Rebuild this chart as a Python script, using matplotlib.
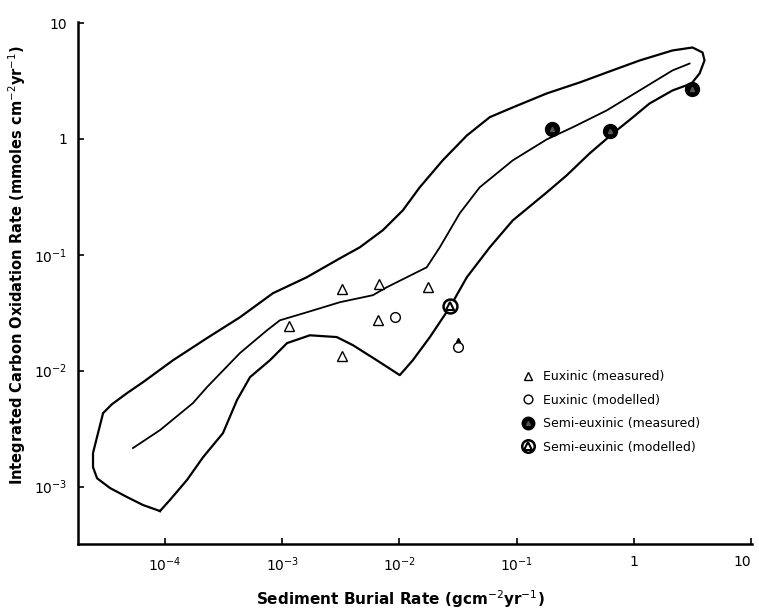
import matplotlib.pyplot as plt
from matplotlib.legend_handler import HandlerTuple

# outer envelope (closed loop)
env_x = [9.06e-5, 6.49e-5, 4.74e-5, 3.40e-5, 2.63e-5, 2.43e-5, 2.43e-5, 2.68e-5, 2.96e-5, 3.53e-5,
         4.74e-5, 6.49e-5, 1.17e-4, 2.28e-4, 4.36e-4, 8.33e-4, 1.62e-3, 3.11e-3, 4.59e-3, 7.22e-3,
         1.07e-2, 1.49e-2, 2.34e-2, 3.76e-2, 5.90e-2, 9.27e-2, 0.181, 0.345, 0.586, 1.12,
         2.14, 3.17, 3.86, 4.01, 3.64, 3.11, 2.14, 1.36, 0.977, 0.659,
         0.420, 0.267, 0.181, 9.27e-2, 5.90e-2, 3.76e-2, 2.69e-2, 1.82e-2, 1.30e-2, 1.007e-2,
         6.41e-3, 4.01e-3, 2.92e-3, 1.72e-3, 1.10e-3, 7.85e-4, 5.31e-4, 4.11e-4, 3.12e-4, 2.11e-4,
         1.54e-4, 1.10e-4, 9.06e-5]
env_y = [6.15e-4, 6.93e-4, 8.12e-4, 9.70e-4, 1.18e-3, 1.47e-3, 1.95e-3, 2.89e-3, 4.30e-3, 5.14e-3,
         6.40e-3, 7.96e-3, 1.23e-2, 1.91e-2, 2.89e-2, 4.66e-2, 6.40e-2, 9.33e-2, 0.116, 0.163,
         0.242, 0.382, 0.653, 1.07, 1.54, 1.87, 2.47, 3.07, 3.74, 4.75,
         5.80, 6.15, 5.57, 4.75, 3.67, 3.01, 2.62, 2.02, 1.53, 1.11,
         0.750, 0.484, 0.346, 0.198, 0.116, 0.0640, 0.0352, 0.0195, 0.0123, 9.15e-3,
         0.0123, 0.0166, 0.0195, 0.0202, 0.0173, 0.0123, 8.79e-3, 5.57e-3, 2.89e-3, 1.79e-3,
         1.14e-3, 7.65e-4, 6.15e-4]

# middle trend line
mid_x = [5.33e-5, 9.06e-5, 1.73e-4, 2.28e-4, 4.36e-4, 7.41e-4, 9.55e-4, 1.62e-3, 3.11e-3, 5.93e-3,
         7.81e-3, 1.71e-2, 2.21e-2, 3.27e-2, 4.84e-2, 9.27e-2, 0.181, 0.301, 0.586, 1.12,
         2.14, 2.99]
mid_y = [2.15e-3, 3.07e-3, 5.25e-3, 7.21e-3, 1.42e-2, 2.23e-2, 2.72e-2, 3.19e-2, 3.90e-2, 4.48e-2,
         5.25e-2, 7.80e-2, 0.116, 0.228, 0.382, 0.653, 0.991, 1.26, 1.76, 2.62,
         3.90, 4.47]

eux_meas_x = [1.14e-3, 3.23e-3, 6.67e-3, 1.75e-2, 6.54e-3, 3.23e-3]
eux_meas_y = [2.42e-2, 5.05e-2, 5.57e-2, 5.25e-2, 2.72e-2, 1.33e-2]
eux_mod_x = [9.14e-3, 3.15e-2]
eux_mod_y = [2.89e-2, 1.60e-2]
semi_meas_x = [0.199, 0.622, 3.11]
semi_meas_y = [1.21, 1.18, 2.72]
semi_mod_x = [2.69e-2]
semi_mod_y = [3.60e-2]

xticks = [1e-4, 1e-3, 1e-2, 1e-1, 1, 10]
xlabels = ['$10^{-4}$', '$10^{-3}$', '$10^{-2}$', '$10^{-1}$', '1', '10']
yticks = [1e-3, 1e-2, 1e-1, 1, 10]
ylabels = ['$10^{-3}$', '$10^{-2}$', '$10^{-1}$', '1', '10']

fig = plt.figure(figsize=(7.59, 6.12), dpi=100)
ax = fig.add_axes([0.1028, 0.111, 0.888, 0.853])
ax.set_xscale('log')
ax.set_yscale('log')

ax.plot(env_x, env_y, color='black', lw=1.6)
ax.plot(mid_x, mid_y, color='black', lw=1.3)

h1, = ax.plot(eux_meas_x, eux_meas_y, ls='none', marker='^', ms=7, mfc='white', mec='black', mew=1)
h2, = ax.plot(eux_mod_x, eux_mod_y, ls='none', marker='o', ms=7, mfc='white', mec='black', mew=1)
# little arrow above the second modelled point
ax.plot([eux_mod_x[1]], [eux_mod_y[1] * 1.15], ls='none', marker='^', ms=3, color='black')
h3a, = ax.plot(semi_meas_x, semi_meas_y, ls='none', marker='o', ms=10, mfc='black', mec='black', zorder=4)
h3b, = ax.plot(semi_meas_x, semi_meas_y, ls='none', marker='^', ms=3, mfc='#555555', mec='#555555', zorder=5)
h4a, = ax.plot(semi_mod_x, semi_mod_y, ls='none', marker='o', ms=10, mfc='white', mec='black', mew=1.8, zorder=4)
h4b, = ax.plot(semi_mod_x, semi_mod_y, ls='none', marker='^', ms=6, mfc='white', mec='black', mew=1.5, zorder=5)

ax.legend([h1, h2, (h3a, h3b), (h4a, h4b)],
          ['Euxinic (measured)', 'Euxinic (modelled)', 'Semi-euxinic (measured)', 'Semi-euxinic (modelled)'],
          handler_map={tuple: HandlerTuple(ndivide=1)},
          loc='upper left', bbox_to_anchor=(0.64, 0.355), frameon=False, fontsize=9,
          labelspacing=0.85, handletextpad=0.6, handlelength=1.2, markerscale=0.9)

ax.set_xlim(1.81e-5, 10.2)
ax.set_ylim(3.19e-4, 10.2)
ax.set_xticks(xticks)
ax.set_xticklabels(xlabels, fontsize=10)
ax.set_yticks(yticks)
ax.set_yticklabels(ylabels, fontsize=10)
ax.minorticks_off()
ax.tick_params(direction='in', length=4, width=1.2, pad=8)
ax.get_xticklabels()[-1].set_horizontalalignment('right')

ax.spines['top'].set_visible(False)
ax.spines['right'].set_visible(False)
ax.spines['left'].set_linewidth(1.8)
ax.spines['bottom'].set_linewidth(1.8)

ax.set_xlabel('Sediment Burial Rate (gcm$^{-2}$yr$^{-1}$)', fontsize=11, fontweight='semibold')
ax.set_ylabel('Integrated Carbon Oxidation Rate (mmoles cm$^{-2}$yr$^{-1}$)', fontsize=10.5,
              fontweight='semibold')
ax.xaxis.set_label_coords(0.478, -0.085)
ax.yaxis.set_label_coords(-0.074, 0.534)

plt.savefig('out.png', dpi=100)
